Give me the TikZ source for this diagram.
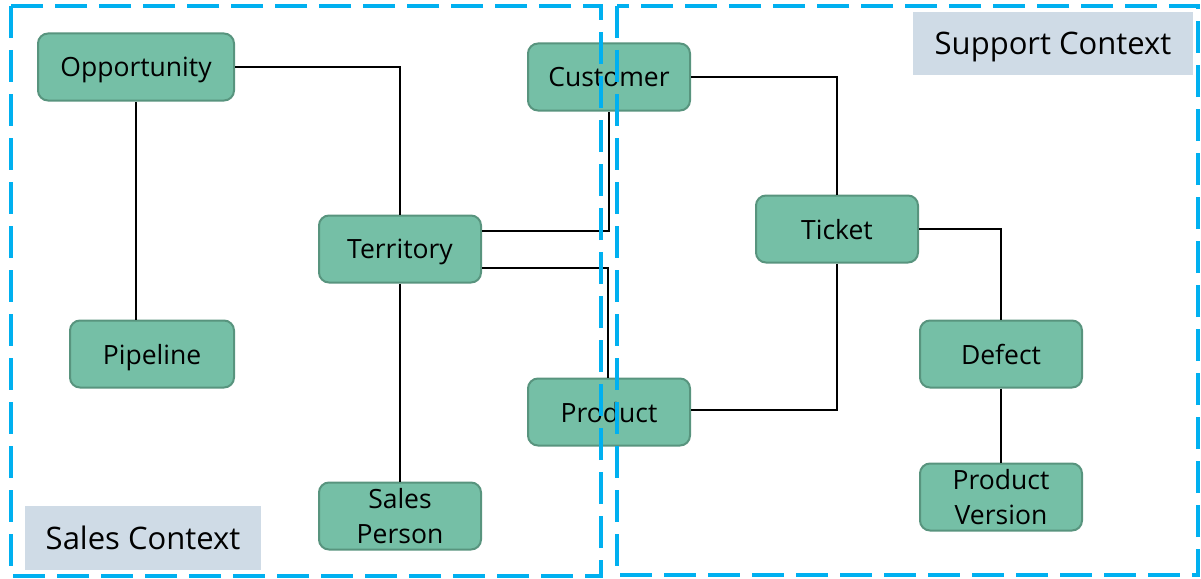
\documentclass[tikz,border=0pt]{standalone}
\usepackage{fontspec}
\setmainfont{Open Sans}
\usepackage{xcolor}
\usepackage{tikz}
\usetikzlibrary{positioning,calc}
\definecolor{entfill}{RGB}{117,191,166}
\definecolor{entdraw}{RGB}{88,148,126}
\definecolor{ctxblue}{RGB}{0,176,240}
\definecolor{ctxfill}{RGB}{207,219,230}
\begin{document}
\begin{tikzpicture}[x=1pt, y=-1pt, every node/.style={font=\fontsize{26.5}{35}\selectfont},
  entity/.style={draw=entdraw, fill=entfill, line width=2pt, rounded corners=10pt,
    minimum width=162pt, minimum height=67pt, align=center, inner sep=0pt, text depth=0pt},
  link/.style={draw, line width=2pt},
  ctx/.style={draw=ctxblue, line width=4pt, dash pattern=on 32pt off 12pt},
  ctxlabel/.style={fill=ctxfill, font=\fontsize{31}{38}\selectfont, inner sep=0pt, text depth=0pt}]
  \useasboundingbox (0,0) rectangle (1201,578);
  % sales side
  \node[entity, minimum width=196pt] (opp) at (136,67) {Opportunity};
  \node[entity, minimum width=164pt] (pipe) at (152,354) {Pipeline};
  \node[entity] (terr) at (400,249) {Territory};
  \node[entity] (sales) at (400,516) {Sales\\Person};
  % shared
  \node[entity] (cust) at (609,77) {Customer};
  \node[entity] (prod) at (609,412) {Product};
  % support side
  \node[entity] (tick) at (837,229) {Ticket};
  \node[entity] (def) at (1001,354) {Defect};
  \node[entity] (pver) at (1001,497) {Product\\Version};
  \draw[link] (opp.east) -| (terr.north);
  \draw[link] (opp.south) -- (opp.south |- pipe.north);
  \draw[link] (terr.south) -- (sales.north);
  \draw[link] ([yshift=18pt]terr.east) -| (cust.south);
  \draw[link] ([yshift=-19pt]terr.east) -| ([xshift=-1pt]prod.north);
  \draw[link] (cust.east) -| (tick.north);
  \draw[link] (tick.south) |- ([yshift=2pt]prod.east);
  \draw[link] (tick.east) -| (def.north);
  \draw[link] (def.south) -- (pver.north);
  % contexts
  \node[ctxlabel, minimum width=280pt, minimum height=63pt] (suplbl) at (1053,43.5) {Support Context};
  \node[ctxlabel, minimum width=236pt, minimum height=64pt] (salelbl) at (143,538) {Sales Context};
  \draw[ctx] (11,6) rectangle (601,576);
  \draw[ctx] (617,6) rectangle (1198,575);
\end{tikzpicture}
\end{document}
